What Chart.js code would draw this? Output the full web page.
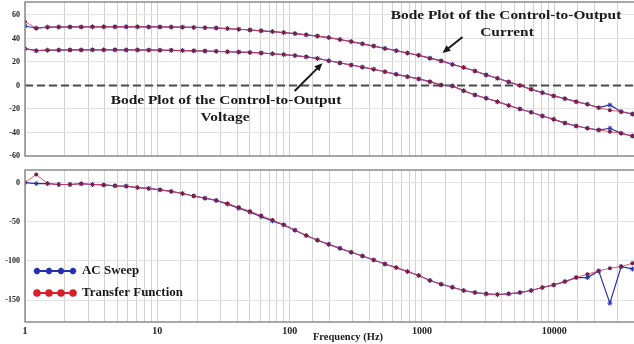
<!DOCTYPE html>
<html>
<head>
<meta charset="utf-8">
<script src="https://cdn.jsdelivr.net/npm/chart.js@4"></script>
<style>
html, body { margin: 0; padding: 0; background: #fff; }
#wrap { position: relative; width: 634px; height: 344px; overflow: hidden; }
#magBox { position: absolute; left: 0; top: 0; width: 634px; height: 160px; }
#phaseBox { position: absolute; left: 0; top: 160px; width: 634px; height: 184px; }
</style>
</head>
<body>
<div id="wrap">
  <div id="magBox"><canvas id="mag"></canvas></div>
  <div id="phaseBox"><canvas id="phase"></canvas></div>
</div>
<script>
// frequency points (Hz)
const freqHz = [1, 1.216, 1.479, 1.799, 2.188, 2.661, 3.236, 3.936, 4.786, 5.821,
  7.079, 8.61, 10.47, 12.74, 15.49, 18.84, 22.91, 27.86, 33.88, 41.21,
  50.12, 60.95, 74.13, 90.16, 109.6, 133.4, 162.2, 197.2, 239.9, 291.7,
  354.8, 431.5, 524.8, 638.3, 776.2, 944.1, 1148, 1396, 1698, 2065,
  2512, 3055, 3715, 4519, 5495, 6683, 8128, 9886, 12023, 14622,
  17783, 21627, 26303, 31989, 38905];

// magnitude (dB) - control-to-output current
const magCurrentTF = [54.3, 48.7, 49.6, 49.7, 49.8, 49.8, 49.9, 49.9, 49.9, 49.9,
  49.9, 49.8, 49.8, 49.7, 49.6, 49.4, 49.2, 48.9, 48.4, 47.8,
  47.2, 46.5, 45.8, 45.0, 44.1, 43.1, 42.0, 40.7, 39.1, 37.3,
  35.4, 33.5, 31.5, 29.6, 27.6, 25.6, 23.2, 20.9, 17.9, 15.3,
  12.3, 9.0, 6.1, 3.0, 0.0, -3.3, -6.1, -8.9, -11.2, -13.8,
  -16.0, -18.9, -21.0, -22.3, -24.3];
const magCurrentAC = [50.6, 48.7, 49.6, 49.7, 49.8, 49.8, 49.9, 49.9, 49.9, 49.9,
  49.9, 49.8, 49.8, 49.7, 49.6, 49.4, 49.2, 48.9, 48.4, 47.8,
  47.2, 46.5, 45.8, 45.0, 44.1, 43.1, 42.0, 40.7, 39.1, 37.3,
  35.4, 33.5, 31.5, 29.6, 27.6, 25.6, 23.2, 20.9, 17.9, 15.3,
  12.3, 9.0, 6.1, 3.0, 0.0, -3.3, -6.1, -8.9, -11.2, -13.8,
  -16.0, -18.9, -16.6, -22.3, -24.3];

// magnitude (dB) - control-to-output voltage
const magVoltageTF = [31.3, 29.6, 30.0, 30.1, 30.2, 30.2, 30.3, 30.3, 30.3, 30.2,
  30.2, 30.1, 30.0, 29.9, 29.7, 29.5, 29.3, 29.0, 28.7, 28.4,
  28.1, 27.6, 27.0, 26.3, 25.4, 24.4, 23.0, 21.0, 19.2, 17.4,
  15.6, 13.8, 11.7, 9.5, 7.5, 5.6, 3.2, 0.4, -0.4, -4.5,
  -8.1, -10.9, -13.8, -17.0, -20.0, -22.8, -26.0, -28.8, -32.0, -34.5,
  -36.4, -37.9, -39.3, -40.7, -43.0];
const magVoltageAC = [31.3, 29.6, 30.0, 30.1, 30.2, 30.2, 30.3, 30.3, 30.3, 30.2,
  30.2, 30.1, 30.0, 29.9, 29.7, 29.5, 29.3, 29.0, 28.7, 28.4,
  28.1, 27.6, 27.0, 26.3, 25.4, 24.4, 23.0, 21.0, 19.2, 17.4,
  15.6, 13.8, 11.7, 9.5, 7.5, 5.6, 3.2, 0.4, -0.4, -4.5,
  -8.1, -10.9, -13.8, -17.0, -20.0, -22.8, -26.0, -28.8, -32.0, -34.5,
  -36.4, -37.9, -36.4, -40.7, -43.0];

// phase (deg)
const phaseTF = [0, 10.2, -1.3, -2.5, -2.5, -1.5, -2.5, -3.0, -4.2, -4.7,
  -6.4, -7.5, -9.3, -11.3, -14.0, -17.2, -20.0, -22.8, -26.7, -31.6,
  -36.5, -42.2, -47.8, -54.0, -60.8, -67.6, -73.6, -78.9, -84.0, -89.0,
  -93.7, -98.8, -104.0, -108.6, -113.6, -118.7, -125.0, -129.8, -133.6, -137.8,
  -140.4, -142.1, -142.9, -142.1, -140.4, -137.8, -134.0, -130.7, -126.4, -121.3,
  -117.0, -112.8, -109.4, -107.3, -103.0];
const phaseAC = [0, -1.3, -1.3, -2.5, -2.5, -1.5, -2.5, -3.0, -4.2, -4.7,
  -6.4, -7.5, -9.3, -11.3, -14.0, -17.2, -20.0, -22.8, -27.5, -32.8,
  -37.8, -43.6, -49.0, -54.0, -60.8, -67.6, -73.6, -78.9, -84.0, -89.0,
  -93.7, -98.8, -104.0, -108.6, -113.6, -118.7, -125.0, -129.8, -133.6, -137.8,
  -140.4, -142.1, -142.9, -142.1, -140.4, -137.8, -134.0, -130.7, -126.4, -121.3,
  -121.3, -112.8, -154.0, -107.3, -110.3];

const xTickLabels = [1, 10, 100, 1000, 10000];
const magTicks = [60, 40, 20, 0, -20, -40, -60];
const phaseTicks = [0, -50, -100, -150];
const legendLabels = ["AC Sweep", "Transfer Function"];

const BLUE = "#2430b0";
const RED = "rgba(232,60,70,0.85)";
const DOT = "#7a2048";
const SERIF = "'Liberation Serif', 'Times New Roman', serif";

function pts(ys) {
    return freqHz.map((f, i) => ({x: f, y: ys[i]}));
}

function tfSet(ys) {
    return {data: pts(ys), borderColor: RED, borderWidth: 1, pointStyle: "circle",
        pointRadius: 2, pointBackgroundColor: DOT, pointBorderColor: DOT, pointBorderWidth: 0};
}
function acSet(ys) {
    return {data: pts(ys), borderColor: BLUE, borderWidth: 1.2, pointStyle: "star",
        pointRadius: 2.5, pointBorderColor: BLUE, pointBackgroundColor: BLUE, pointBorderWidth: 1};
}

function xScale(showLabels, height) {
    return {
        type: "logarithmic", min: 1, max: 40000,
        grid: {color: "#d2d2d2", lineWidth: 1, drawTicks: false},
        border: {display: false},
        ticks: {
            display: showLabels, autoSkip: false, maxRotation: 0, padding: 3,
            color: "#222", font: {family: SERIF, weight: "bold", size: 10},
            callback: v => xTickLabels.includes(v) ? String(v) : ""
        },
        afterFit: s => { s.height = height; s.paddingLeft = 0; s.paddingRight = 0; }
    };
}

function yScale(min, max, list) {
    return {
        min: min, max: max,
        grid: {color: "#e2e2e2", lineWidth: 1, drawTicks: false},
        border: {display: false},
        afterBuildTicks: s => { s.ticks = list.map(v => ({value: v})); },
        ticks: {padding: 5, color: "#222", font: {family: SERIF, weight: "bold", size: 8}},
        afterFit: s => { s.width = 25; s.paddingTop = 0; s.paddingBottom = 0; }
    };
}

// frame round the plot area
const framePlugin = {
    id: "frame",
    afterDraw(chart) {
        const a = chart.chartArea, c = chart.ctx;
        c.save();
        c.strokeStyle = "#8c8c8c";
        c.lineWidth = 1.5;
        c.strokeRect(a.left, a.top, a.right - a.left + 3, a.bottom - a.top);
        c.restore();
    }
};

// text drawn a little wider than the font, like the original figure
function wideText(c, txt, x, y, stretch) {
    c.save();
    c.translate(x, y);
    c.scale(stretch, 1);
    c.fillText(txt, 0, 0);
    c.restore();
}

function arrow(c, x1, y1, x2, y2) {
    const ang = Math.atan2(y2 - y1, x2 - x1);
    c.beginPath();
    c.moveTo(x1, y1);
    c.lineTo(x2 - 6 * Math.cos(ang), y2 - 6 * Math.sin(ang));
    c.lineWidth = 2;
    c.stroke();
    c.beginPath();
    c.moveTo(x2, y2);
    c.lineTo(x2 - 8 * Math.cos(ang) + 3.5 * Math.sin(ang), y2 - 8 * Math.sin(ang) - 3.5 * Math.cos(ang));
    c.lineTo(x2 - 8 * Math.cos(ang) - 3.5 * Math.sin(ang), y2 - 8 * Math.sin(ang) + 3.5 * Math.cos(ang));
    c.closePath();
    c.fill();
}

// zero line, notes and arrows on the magnitude panel
const magNotes = {
    id: "magNotes",
    beforeDatasetsDraw(chart) {
        const a = chart.chartArea, c = chart.ctx, y0 = chart.scales.y.getPixelForValue(0);
        c.save();
        c.strokeStyle = "#4a4a4a";
        c.lineWidth = 2;
        c.setLineDash([8, 4]);
        c.beginPath();
        c.moveTo(a.left, y0);
        c.lineTo(a.right, y0);
        c.stroke();
        c.restore();
    },
    afterDraw(chart) {
        const c = chart.ctx, sx = chart.scales.x, sy = chart.scales.y;
        c.save();
        c.fillStyle = "#1a1a1a";
        c.strokeStyle = "#1a1a1a";
        c.font = "bold 13.5px " + SERIF;
        c.textAlign = "center";
        c.textBaseline = "middle";
        wideText(c, "Bode Plot of the Control-to-Output", 226, 101, 1.14);
        wideText(c, "Voltage", 225, 118, 1.14);
        wideText(c, "Bode Plot of the Control-to-Output", 506, 16, 1.14);
        wideText(c, "Current", 507, 33, 1.14);
        arrow(c, sx.getPixelForValue(109), sy.getPixelForValue(-4.7),
                 sx.getPixelForValue(177), sy.getPixelForValue(19));
        arrow(c, sx.getPixelForValue(2023), sy.getPixelForValue(41.3),
                 sx.getPixelForValue(1428), sy.getPixelForValue(27.7));
        c.restore();
    }
};

// legend and axis title on the phase panel
const phaseNotes = {
    id: "phaseNotes",
    afterDraw(chart) {
        const c = chart.ctx;
        c.save();
        const rows = [
            {y: 111, color: BLUE, style: "star", r: 3.2},
            {y: 133, color: "#d8202a", style: "circle", r: 2.8}
        ];
        rows.forEach((r, i) => {
            c.strokeStyle = r.color;
            c.fillStyle = r.color;
            c.lineWidth = 2;
            c.beginPath();
            c.moveTo(36, r.y);
            c.lineTo(74, r.y);
            c.stroke();
            [37, 49, 61, 73].forEach(px => {
                Chart.helpers.drawPoint(c, {pointStyle: r.style, radius: r.r, borderWidth: 1.5, rotation: 0}, px, r.y);
            });
            c.fillStyle = "#1a1a1a";
            c.font = "bold 12px " + SERIF;
            c.textAlign = "left";
            c.textBaseline = "middle";
            wideText(c, legendLabels[i], 82, r.y, 1.08);
        });
        c.font = "bold 10px " + SERIF;
        c.textAlign = "center";
        wideText(c, "Frequency (Hz)", 348, 177, 1.05);
        c.restore();
    }
};

const common = {
    responsive: true,
    maintainAspectRatio: false,
    animation: false,
    events: [],
    elements: {line: {tension: 0}, point: {hoverRadius: 0, hoverBorderWidth: 0}},
    plugins: {legend: {display: false}, tooltip: {enabled: false}}
};

new Chart(document.getElementById("mag"), {
    type: "line",
    data: {datasets: [tfSet(magCurrentTF), tfSet(magVoltageTF), acSet(magCurrentAC), acSet(magVoltageAC)]},
    options: Object.assign({}, common, {
        layout: {autoPadding: false, padding: {top: 2, right: 0, left: 0, bottom: 0}},
        scales: {x: xScale(false, 4), y: yScale(-60, 71, magTicks)}
    }),
    plugins: [framePlugin, magNotes]
});

new Chart(document.getElementById("phase"), {
    type: "line",
    data: {datasets: [tfSet(phaseTF), acSet(phaseAC)]},
    options: Object.assign({}, common, {
        layout: {autoPadding: false, padding: {top: 10, right: 0, left: 0, bottom: 0}},
        scales: {x: xScale(true, 22), y: yScale(-178, 16, phaseTicks)}
    }),
    plugins: [framePlugin, phaseNotes]
});
</script>
</body>
</html>
